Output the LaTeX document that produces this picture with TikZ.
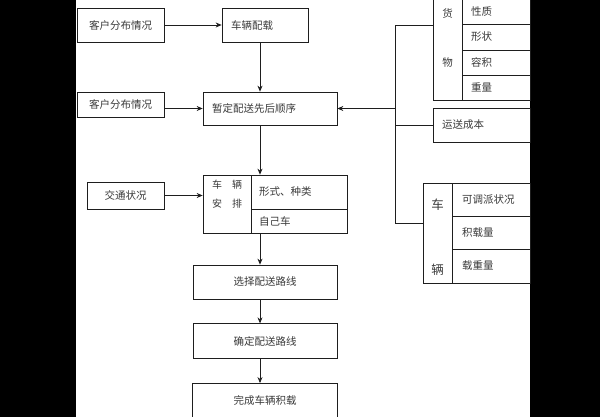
\documentclass[tikz,border=0pt]{standalone}
\usepackage{fontspec}
\setmainfont{Noto Sans CJK SC}
\usetikzlibrary{arrows.meta, positioning, calc}
\definecolor{ink}{HTML}{3A3A3A}
\definecolor{rule}{HTML}{1E1E1E}

\begin{document}
\begin{tikzpicture}[
  x=1pt, y=1pt,
  box/.style={draw=rule, line width=0.7pt, inner sep=0pt,
              font=\fontsize{10.5}{12}\selectfont, text=ink, align=center},
  lbox/.style={box, align=left, inner xsep=9pt},
  lbl/.style={inner sep=0pt, text=ink, align=center},
  arr/.style={-{Stealth[length=6pt, width=5pt]}, line width=0.7pt, color=rule},
  bus/.style={line width=0.7pt, color=rule}
]
  \useasboundingbox (0,0) rectangle (600,-417);
  \fill[black] (0,0) rectangle (600,-417);
  \fill[white] (76,0) rectangle (530,-417);

  \coordinate (sp) at (260,0);

  \node[box, minimum width=87pt, minimum height=34pt] (kh1) at (120.5,-25) {客户分布情况};
  \node[lbox, text width=68pt, minimum height=34pt] (pz) at (265,-25) {车辆配载};
  \node[box, minimum width=87pt, minimum height=25pt] (kh2) at (120.5,-104.5) {客户分布情况};
  \node[lbox, text width=116pt, minimum height=33pt] (zd) at (270,-108.5) {暂定配送先后顺序};
  \node[box, minimum width=77pt, minimum height=27pt] (jt) at (125.5,-195.5) {交通状况};

  \node[box, minimum width=48pt, minimum height=58pt] (apL) at (227,-204) {};
  \node[lbl, below=5pt of apL.north, font=\fontsize{10}{19}\selectfont]
    {车\hspace{10pt}辆\\安\hspace{10pt}排};
  \node[lbox, inner xsep=8pt, text width=80pt, minimum height=34pt] (apR1) at (299,-192) {形式、种类};
  \node[lbox, inner xsep=8pt, text width=80pt, minimum height=24pt] (apR2) at (299,-221) {自己车};

  \node[box, minimum width=144pt, minimum height=34pt] (sel) at (265,-282) {选择配送路线};
  \node[box, minimum width=144pt, minimum height=35pt, below=24pt of sel] (qd) {确定配送路线};
  \node[box, minimum width=145pt, minimum height=34pt, below=24pt of qd] (wc) {完成车辆积载};

  \node[box, minimum width=29pt, minimum height=101pt] (gL) at (447.5,-49.5) {};
  \node[lbl, font=\fontsize{10.5}{12}\selectfont] (huo) at (447.5,-13) {货};
  \node[lbl, font=\fontsize{10.5}{12}\selectfont] (wu) at (447.5,-63) {物};
  \node[lbox, text width=50pt, minimum height=25pt] (g1) at (496,-11.5) {性质};
  \node[lbox, text width=50pt, minimum height=26pt] (g2) at (496,-37) {形状};
  \node[lbox, text width=50pt, minimum height=25pt] (g3) at (496,-62.5) {容积};
  \node[lbox, text width=50pt, minimum height=25pt] (g4) at (496,-87.5) {重量};

  \node[lbox, text width=79pt, minimum height=34pt] (cost) at (481.5,-125) {运送成本};

  \node[box, minimum width=29pt, minimum height=100pt] (vL) at (437.5,-233) {};
  \node[lbl, font=\fontsize{12.5}{14}\selectfont] (che) at (437.5,-205) {车};
  \node[lbl, font=\fontsize{12.5}{14}\selectfont] (liang) at (437.5,-270) {辆};
  \node[lbox, inner xsep=10pt, text width=58pt, minimum height=33pt] (v1) at (491,-199.5) {可调派状况};
  \node[lbox, inner xsep=10pt, text width=58pt, minimum height=33pt] (v2) at (491,-232.5) {积载量};
  \node[lbox, inner xsep=10pt, text width=58pt, minimum height=34pt] (v3) at (491,-266) {载重量};

  \draw[arr] (kh1) -- (pz);
  \draw[arr] (kh2.east |- zd) -- (zd.west);
  \draw[arr] (jt) -- (jt -| apL.west);
  \draw[arr] (pz.south -| sp) -- (zd.north -| sp);
  \draw[arr] (zd.south -| sp) -- (apR1.north -| sp);
  \draw[arr] (apR2.south -| sp) -- (sel.north -| sp);
  \draw[arr] (sel.south -| sp) -- (qd.north -| sp);
  \draw[arr] (qd.south -| sp) -- (wc.north -| sp);

  \coordinate (bt) at (395,-25);
  \coordinate (bb) at (395,-223);
  \draw[bus] (bt -| gL.west) -- (bt) -- (bb) -- (bb -| vL.west);
  \draw[arr] (bt |- zd.east) -- (zd.east);
  \draw[bus] (bt |- cost.west) -- (cost.west);
\end{tikzpicture}
\end{document}
